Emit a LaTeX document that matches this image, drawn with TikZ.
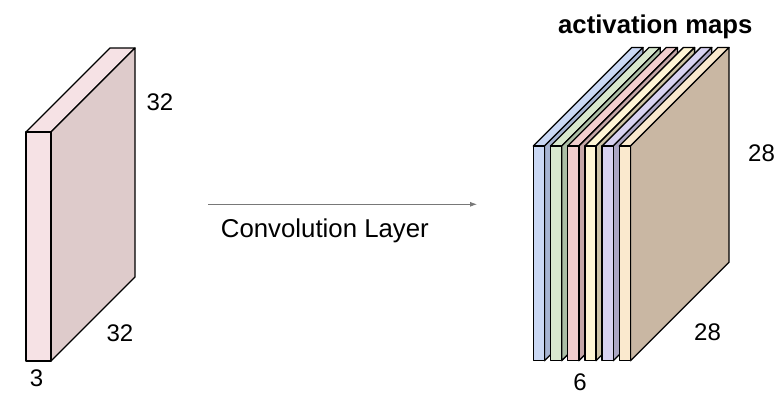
\documentclass[tikz,border=0pt]{standalone}
\usepackage{fontspec}
\setmainfont{Liberation Sans}
\usepackage{tikz}
\usetikzlibrary{arrows.meta}
\usepackage{xcolor}

\definecolor{slabfront}{RGB}{246,226,229}
\definecolor{slabside}{RGB}{222,203,203}
\definecolor{mapblue}{RGB}{202,216,244}
\definecolor{mapbluedark}{RGB}{166,180,210}
\definecolor{mapgreen}{RGB}{216,232,206}
\definecolor{mapgreendark}{RGB}{172,190,166}
\definecolor{mappink}{RGB}{242,206,206}
\definecolor{mappinkdark}{RGB}{196,166,166}
\definecolor{mapyellow}{RGB}{255,246,212}
\definecolor{mapyellowdark}{RGB}{206,196,166}
\definecolor{mappurple}{RGB}{216,210,240}
\definecolor{mappurpledark}{RGB}{172,166,196}
\definecolor{maptan}{RGB}{250,233,206}
\definecolor{maptandark}{RGB}{201,183,163}
\definecolor{arrowgray}{RGB}{120,120,120}

\begin{document}
\begin{tikzpicture}[x=1pt, y=-1pt,
    face/.style={draw=black, line width=1.3pt, line join=round},
    dim/.style={font=\fontsize{24}{28}\selectfont, inner sep=0pt},
    lbl/.style={font=\fontsize{25.8}{30}\selectfont, inner sep=0pt},
    title/.style={font=\fontsize{25.7}{30}\selectfont\bfseries, inner sep=0pt}
]
\useasboundingbox (0,0) rectangle (784,413);

% Box helper: front face, top face and side face of a slab
\newcommand{\slabbox}[7]{%
    % #1=x, #2=top y, #3=thickness, #4=height, #5=depth, #6=front, #7=side
    \filldraw[face, fill=#6] (#1,#2) -- ++(#5,-#5) -- ++(#3,0) -- ++(-#5,#5) -- cycle;
    \filldraw[face, fill=#7] (#1+#3,#2) -- ++(#5,-#5) -- ++(0,#4) -- ++(-#5,#5) -- cycle;
    \filldraw[face, fill=#6] (#1,#2) rectangle ++(#3,#4);
}

% Input volume
\slabbox{26}{132}{25}{229}{84}{slabfront}{slabside}
\node[dim] (inheight) at (160,102) {32};
\node[dim] (inwidth) at (120,333) {32};
\node[dim] (indepth) at (36.5,378) {3};

% Convolution arrow
\coordinate (convstart) at (208,204.3);
\coordinate (convend) at (477,204.3);
\draw[arrowgray, line width=0.8pt, -{Latex[length=7pt,width=5pt]}] (convstart) -- (convend);
\node[lbl, anchor=base west] (convlabel) at (220.7,237.3) {Convolution Layer};

% Activation maps
\foreach \c [count=\i from 0] in {blue,green,pink,yellow,purple,tan} {
    \slabbox{533.3+\i*17.2}{146}{11.2}{214.7}{98.5}{map\c}{map\c dark}
}
\node[title, anchor=base] (maptitle) at (655.3,33) {activation maps};
\node[dim] (outheight) at (761.5,153) {28};
\node[dim] (outwidth) at (707.5,332) {28};
\node[dim] (outdepth) at (580,382) {6};

\end{tikzpicture}
\end{document}
